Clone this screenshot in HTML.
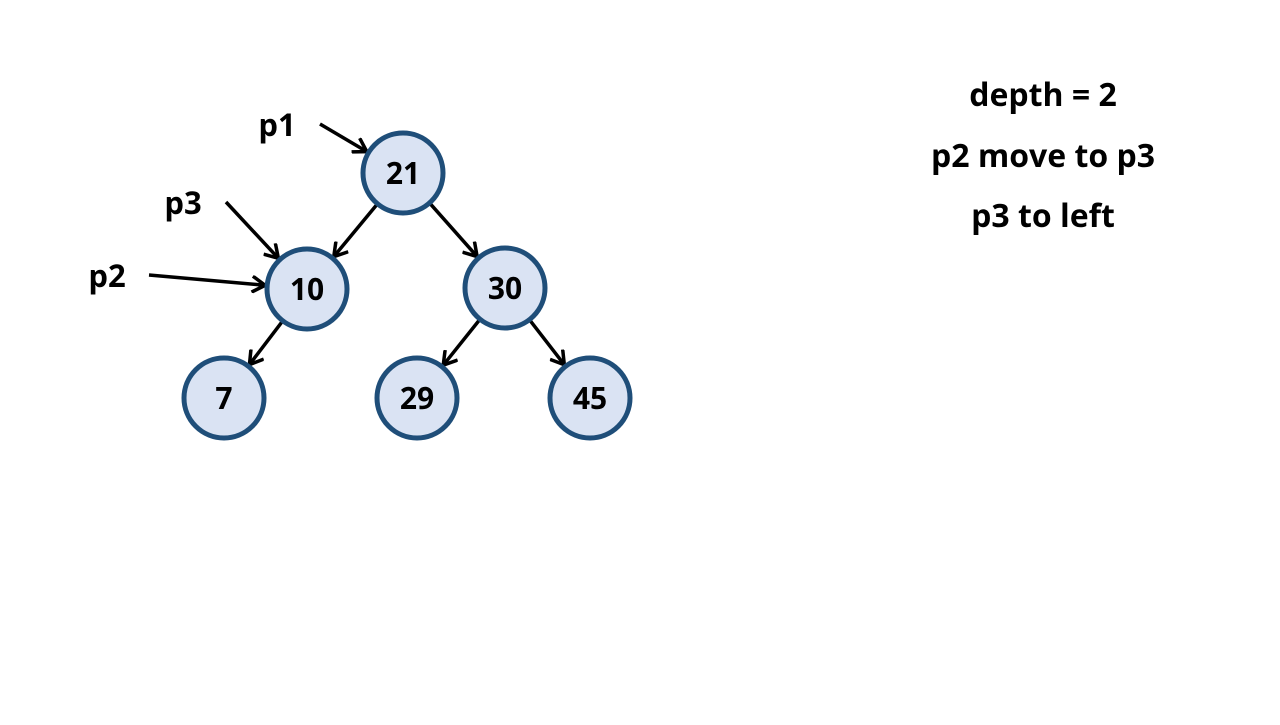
<!DOCTYPE html>
<html><head><meta charset="utf-8"><style>
body{margin:0;background:#fff;width:1280px;height:720px;overflow:hidden}
svg{font-family:"Open Sans","DejaVu Sans","Liberation Sans",sans-serif;font-weight:bold}
</style></head><body>
<svg id="c" width="1280" height="720">
<defs><marker id="ah" markerWidth="16" markerHeight="18" refX="13" refY="9" orient="auto" markerUnits="userSpaceOnUse"><path d="M1,1 L14,9 L1,17" fill="none" stroke="#000" stroke-width="3.5"/></marker></defs>
<text x="1043" y="106" font-size="32" text-anchor="middle">depth = 2</text>
<text x="1043" y="167" font-size="32" text-anchor="middle">p2 move to p3</text>
<text x="1043" y="227" font-size="32" text-anchor="middle">p3 to left</text>
</svg>
<script>
const labels=["21","10","30","7","29","45"];
const nx=[403,307,505,224,417,590];
const ny=[173,289,288,398,398,398];
const edges=[[0,1],[0,2],[1,3],[2,4],[2,5]];
const ptrNames=["p1","p3","p2"];
const ptrTarget=[0,1,1];
const ptrFromX=[320,226,149];
const ptrFromY=[124,202,275];
const ptrLabX=[277,183,107];
const ptrLabY=[136,214,287];
const R=42;
const svg=document.getElementById('c');
const NS='http://www.w3.org/2000/svg';
function mk(t,a){const e=document.createElementNS(NS,t);for(const k in a)e.setAttribute(k,a[k]);svg.appendChild(e);return e;}
edges.forEach(([a,b])=>{
 const dx=nx[b]-nx[a],dy=ny[b]-ny[a],d=Math.hypot(dx,dy);
 const l=mk('line',{x1:nx[a]+dx/d*(R-5),y1:ny[a]+dy/d*(R-5),x2:nx[b]-dx/d*(R+1),y2:ny[b]-dy/d*(R+1),stroke:'#000','stroke-width':3.5,'marker-end':'url(#ah)'});
 
 
});
ptrNames.forEach((p,i)=>{
 const t=ptrTarget[i],dx=nx[t]-ptrFromX[i],dy=ny[t]-ptrFromY[i],d=Math.hypot(dx,dy);
 const l=mk('line',{x1:ptrFromX[i],y1:ptrFromY[i],x2:nx[t]-dx/d*(R+1),y2:ny[t]-dy/d*(R+1),stroke:'#000','stroke-width':3.5,'marker-end':'url(#ah)'});
 
 
 const tx=mk('text',{x:ptrLabX[i],y:ptrLabY[i],'font-size':31,'text-anchor':'middle'});
 tx.textContent=p;
 
 
});
labels.forEach((s,i)=>{
 const c=mk('circle',{cx:nx[i],cy:ny[i],r:R-2,fill:'#dae3f3',stroke:'#1f4e79','stroke-width':5});
 
 
 const t=mk('text',{x:nx[i],y:ny[i]+11,'font-size':30,'text-anchor':'middle'});
 t.textContent=s;
 
 
});
</script>
</body></html>
